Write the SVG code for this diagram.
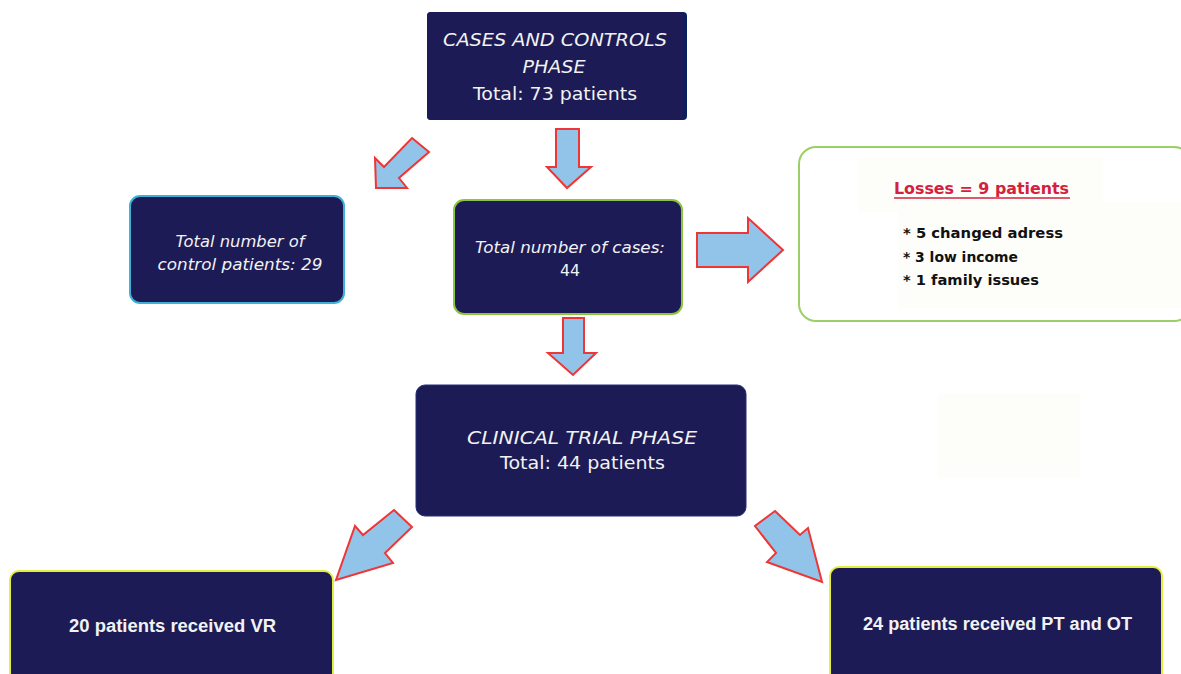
<svg xmlns="http://www.w3.org/2000/svg" width="1181" height="674" viewBox="0 0 1181 674">
<defs>
<style>
.box{fill:#1d1b55;}
.t{fill:#f2f2f2;font-family:"DejaVu Sans",sans-serif;font-style:italic;text-anchor:middle;}
.b{fill:#f2f2f2;font-family:"Liberation Sans",Arial,sans-serif;font-weight:bold;text-anchor:middle;font-size:18px;}
.arrow{fill:#92c4ea;stroke:#ef3535;stroke-width:2;stroke-linejoin:miter;}
.bul{fill:#111;font-family:"DejaVu Sans",sans-serif;font-weight:bold;font-size:14px;}
.faint{fill:#fdfdf9;}
</style>
</defs>
<rect width="1181" height="674" fill="#ffffff"/>

<g id="node-cases-controls">
<rect x="427" y="12" width="260" height="108" rx="4" fill="#0b1f5e"/>
<rect x="427" y="12" width="256" height="108" rx="4" class="box"/>
<text class="t" x="555" y="46" font-size="18" textLength="224" lengthAdjust="spacingAndGlyphs">CASES AND CONTROLS</text>
<text class="t" x="554" y="73" font-size="18" textLength="63" lengthAdjust="spacingAndGlyphs">PHASE</text>
<text class="t" x="555" y="100" font-size="18" textLength="164" lengthAdjust="spacingAndGlyphs" style="font-style:normal">Total: 73 patients</text>
</g>

<g id="node-controls">
<rect x="130" y="196" width="214" height="107" rx="10" class="box" stroke="#3fb0d8" stroke-width="2"/>
<text class="t" x="240" y="247" font-size="15" textLength="129" lengthAdjust="spacingAndGlyphs">Total number of</text>
<text class="t" x="240" y="270" font-size="15" textLength="165" lengthAdjust="spacingAndGlyphs">control patients: 29</text>
</g>

<g id="node-cases">
<rect x="454" y="200" width="228" height="114" rx="10" class="box" stroke="#8cc63f" stroke-width="2"/>
<text class="t" x="570" y="253" font-size="15" textLength="190" lengthAdjust="spacingAndGlyphs">Total number of cases:</text>
<text class="t" x="570" y="276" font-size="15" textLength="20" lengthAdjust="spacingAndGlyphs" style="font-style:normal">44</text>
</g>

<g id="node-losses">
<rect x="799" y="147" width="392" height="174" rx="17" fill="#ffffff" stroke="#9bd067" stroke-width="2"/>
<rect x="858" y="158" width="245" height="54" class="faint"/>
<rect x="898" y="202" width="283" height="106" class="faint"/>
<text x="981.5" y="194" fill="#d4213d" font-family="DejaVu Sans, sans-serif" font-weight="bold" font-size="16" text-anchor="middle" textLength="175" lengthAdjust="spacingAndGlyphs">Losses = 9 patients</text>
<line x1="894" y1="198" x2="1070" y2="198" stroke="#d4213d" stroke-width="1.5"/>
<text class="bul" x="903" y="238" textLength="160" lengthAdjust="spacingAndGlyphs">* 5 changed adress</text>
<text class="bul" x="903" y="262" textLength="115" lengthAdjust="spacingAndGlyphs">* 3 low income</text>
<text class="bul" x="903" y="285" textLength="136" lengthAdjust="spacingAndGlyphs">* 1 family issues</text>
</g>

<g id="node-clinical">
<rect x="416" y="385" width="330" height="131" rx="9" class="box" stroke="#24307a" stroke-width="1"/>
<text class="t" x="582" y="444" font-size="17" textLength="230" lengthAdjust="spacingAndGlyphs">CLINICAL TRIAL PHASE</text>
<text class="t" x="582.5" y="469" font-size="17" textLength="165" lengthAdjust="spacingAndGlyphs" style="font-style:normal">Total: 44 patients</text>
</g>

<g id="node-faint">
<rect x="938" y="393" width="142" height="85" rx="3" class="faint"/>
</g>

<g id="node-vr">
<rect x="10" y="571" width="323" height="120" rx="9" class="box" stroke="#e4ee3c" stroke-width="2"/>
<text class="b" x="172.5" y="632" textLength="207" lengthAdjust="spacingAndGlyphs">20 patients received VR</text>
</g>

<g id="node-ptot">
<rect x="830" y="567" width="332" height="124" rx="9" class="box" stroke="#e4ee3c" stroke-width="2"/>
<text class="b" x="997.5" y="630" textLength="269" lengthAdjust="spacingAndGlyphs">24 patients received PT and OT</text>
</g>

<g id="connectors">
<polygon class="arrow" points="556,129 579,129 579,167 591,167 567,188 547,167 556,167"/>
<polygon class="arrow" points="412,138 429,152 399,178 407,188 376,188 375,158 384,167"/>
<polygon class="arrow" points="697,233 748,233 748,218 783,250 748,282 748,267 697,267"/>
<polygon class="arrow" points="563,318 584,318 584,353 596,353 573,375 548,353 563,353"/>
<polygon class="arrow" points="394,510 412,527 385,553 393,563 336,580 355,526 363,535"/>
<polygon class="arrow" points="775,511 800,535 808,528 822,582 767,562 776,553 755,526"/>
</g>
</svg>
